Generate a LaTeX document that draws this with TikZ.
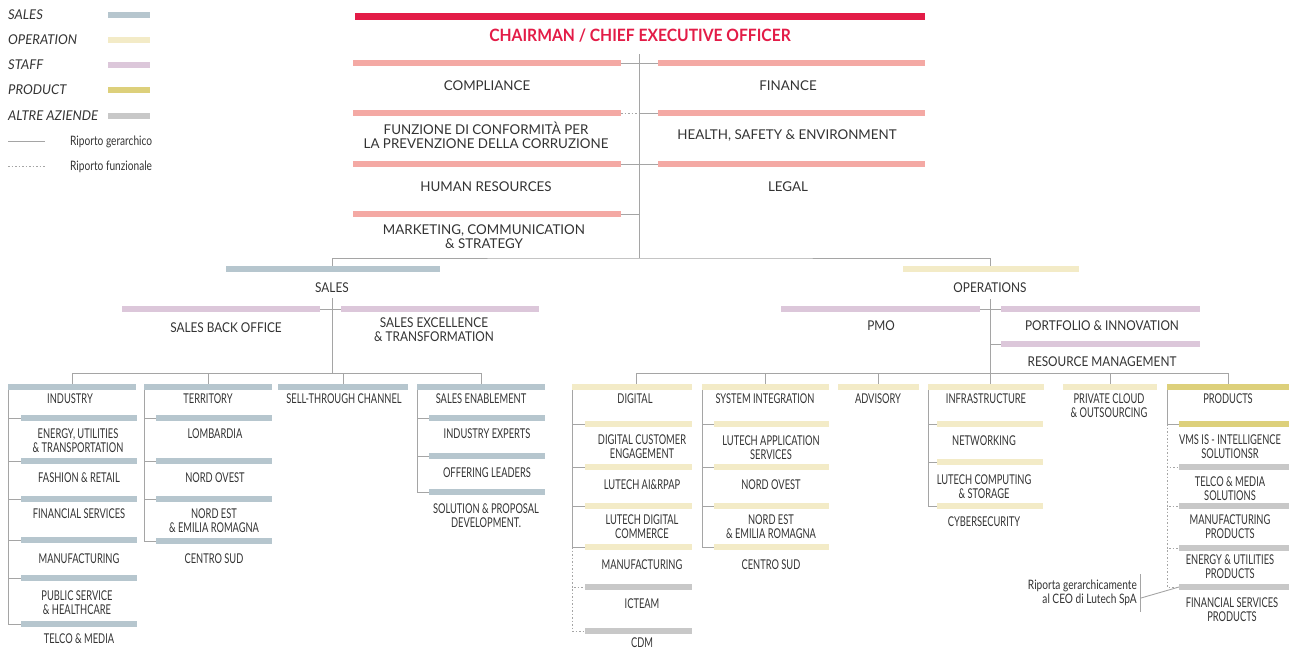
\documentclass[tikz,border=0pt]{standalone}
\usepackage{fontspec}
\setmainfont{Lato}
\newfontfamily\fa{Lato}[FakeStretch=0.99]
\newfontfamily\fb{Lato}[FakeStretch=0.875]
\newfontfamily\fl{Lato}[FakeStretch=0.97]
\newfontfamily\fr{Lato}[FakeStretch=0.92]
\newfontfamily\fc{Lato}[FakeStretch=0.69]
\newfontfamily\fn{Lato}[FakeStretch=0.78]
\usetikzlibrary{calc}
\pgfdeclarelayer{bg}
\pgfsetlayers{bg,main}
\definecolor{cred}{HTML}{E31C47}
\definecolor{csal}{HTML}{F4A9A4}
\definecolor{csales}{HTML}{B6C6CE}
\definecolor{cop}{HTML}{F3EBC7}
\definecolor{cstaff}{HTML}{DCC7DA}
\definecolor{cprod}{HTML}{DDD07B}
\definecolor{calt}{HTML}{C8C8C8}
\definecolor{ctxt}{HTML}{333333}
\definecolor{cline}{HTML}{A5A5A5}
\newcommand\mkbar[5]{\node[bar,fill=#2,minimum width={(#4)-(#3)}] (#1) at ({((#3)+(#4))/2},#5) {};}
\tikzset{
  bar/.style={rectangle,inner sep=0pt,outer sep=0pt,minimum height=6pt,draw=none},
  ta/.style={text=ctxt,inner sep=0pt,align=center,font=\fa\fontsize{13.5}{14}\selectfont},
  tb/.style={text=ctxt,inner sep=0pt,align=center,font=\fb\fontsize{13.5}{14}\selectfont},
  tc/.style={text=ctxt,inner sep=0pt,align=center,font=\fc\fontsize{13.5}{14}\selectfont},
  tl/.style={text=ctxt,inner sep=0pt,anchor=west,font=\fl\itshape\fontsize{13.5}{14}\selectfont},
  tn/.style={text=ctxt,inner sep=0pt,font=\fn\fontsize{13}{13.5}\selectfont},
  conn/.style={draw=cline,line width=0.9pt},
  fconn/.style={conn,dash pattern=on 1.6pt off 1.9pt},
}
\begin{document}
\begin{tikzpicture}[x=1pt,y=-1pt]
\useasboundingbox (0,0) rectangle (1291,649);
% ---------------- legend
\node[tl] (l1) at (8,15) {SALES};
\node[tl] (l2) at (8,40) {OPERATION};
\node[tl] (l3) at (8,65) {STAFF};
\node[tl] (l4) at (8,90) {PRODUCT};
\node[tl] (l5) at (8,116) {ALTRE AZIENDE};
\mkbar{lb1}{csales}{108}{150}{15}
\mkbar{lb2}{cop}{108}{150}{40}
\mkbar{lb3}{cstaff}{108}{150}{65}
\mkbar{lb4}{cprod}{108}{150}{90}
\mkbar{lb5}{calt}{108}{150}{116}
\coordinate (lg1a) at (8,141); \coordinate (lg1b) at (45,141);
\coordinate (lg2a) at (8,166); \coordinate (lg2b) at (45,166);
\node[tn,anchor=west] (lt1) at (70,141.5) {Riporto gerarchico};
\node[tn,anchor=west] (lt2) at (70,166.5) {Riporto funzionale};
% ---------------- top
\node[bar,fill=cred,minimum width=570,minimum height=7pt] (ceo) at (640,16) {};
\node[text=cred,inner sep=0pt,font=\fr\bfseries\fontsize{17}{17}\selectfont] (ceot) at (640,35.5) {CHAIRMAN / CHIEF EXECUTIVE OFFICER};
\mkbar{comp}{csal}{353}{621}{63}
\mkbar{fin}{csal}{658}{925}{63}
\mkbar{fcpc}{csal}{353}{621}{113}
\mkbar{hse}{csal}{658}{925}{113}
\mkbar{hr}{csal}{353}{621}{164}
\mkbar{legal}{csal}{658}{925}{164}
\mkbar{mkt}{csal}{353}{621}{214}
\node[ta] (compt) at (487,85.5) {COMPLIANCE};
\node[ta] (fint) at (788,85.5) {FINANCE};
\node[ta] (fcpct) at (486,135.5) {FUNZIONE DI CONFORMITÀ PER\\LA PREVENZIONE DELLA CORRUZIONE};
\node[ta] (hset) at (787,136) {HEALTH, SAFETY \& ENVIRONMENT};
\node[ta] (hrt) at (486,186.5) {HUMAN RESOURCES};
\node[ta] (legalt) at (788,186.5) {LEGAL};
\node[ta] (mktt) at (484,236.5) {MARKETING, COMMUNICATION\\\& STRATEGY};
\coordinate (ctop) at (639,54);
\coordinate (hub) at (639,258);
% ---------------- sales
\mkbar{sales}{csales}{226}{440}{269}
\node[tb] (salest) at (332,287.5) {SALES};
\mkbar{sbo}{cstaff}{122}{320}{309}
\mkbar{set}{cstaff}{341}{539}{309}
\node[tb] (sbot) at (226,327.5) {SALES BACK OFFICE};
\node[tb] (sett) at (434,329.5) {SALES EXCELLENCE\\\& TRANSFORMATION};
\coordinate (sv) at (332,298);
\coordinate (sj) at (332,373);
% sales level
\mkbar{ind}{csales}{8}{136}{387}
\mkbar{terr}{csales}{144}{272}{387}
\mkbar{sell}{csales}{278}{408}{387}
\mkbar{sen}{csales}{417}{545}{387}
\node[tc] (indt) at (70,398.5) {INDUSTRY};
\node[tc] (terrt) at (208,398.5) {TERRITORY};
\node[tc] (sellt) at (344,398.5) {SELL-THROUGH CHANNEL};
\node[tc] (sent) at (481,398.5) {SALES ENABLEMENT};
% industry
\mkbar{enr}{csales}{21}{137}{418}
\mkbar{fash}{csales}{21}{137}{461}
\mkbar{fins}{csales}{21}{137}{499}
\mkbar{imanu}{csales}{21}{137}{540}
\mkbar{pub}{csales}{21}{137}{578}
\mkbar{itel}{csales}{21}{137}{624}
\node[tc] (enrt) at (78,440.5) {ENERGY, UTILITIES\\\& TRANSPORTATION};
\node[tc] (fasht) at (79,477.5) {FASHION \& RETAIL};
\node[tc] (finst) at (79,513.5) {FINANCIAL SERVICES};
\node[tc] (imanut) at (79,558.5) {MANUFACTURING};
\node[tc] (pubt) at (77,602.5) {PUBLIC SERVICE\\\& HEALTHCARE};
\node[tc] (itelt) at (79,638.5) {TELCO \& MEDIA};
% territory
\mkbar{lomb}{csales}{156}{272}{418}
\mkbar{tno}{csales}{156}{272}{461}
\mkbar{tne}{csales}{156}{272}{499}
\mkbar{tcs}{csales}{156}{272}{541}
\node[tc] (lombt) at (215,433.5) {LOMBARDIA};
\node[tc] (tnot) at (215,477.5) {NORD OVEST};
\node[tc] (tnet) at (214,520.5) {NORD EST\\\& EMILIA ROMAGNA};
\node[tc] (tcst) at (214,558.5) {CENTRO SUD};
% sales enablement
\mkbar{iexp}{csales}{429}{545}{418}
\mkbar{offl}{csales}{429}{545}{456}
\mkbar{spd}{csales}{429}{545}{492}
\node[tc] (iexpt) at (487,433.5) {INDUSTRY EXPERTS};
\node[tc] (offlt) at (487,472.5) {OFFERING LEADERS};
\node[tc] (spdt) at (486,515.5) {SOLUTION \& PROPOSAL\\DEVELOPMENT.};
% ---------------- operations
\mkbar{ops}{cop}{903}{1079}{269}
\node[tb] (opst) at (990,287.5) {OPERATIONS};
\mkbar{pmo}{cstaff}{781}{980}{309}
\mkbar{pfi}{cstaff}{1001}{1200}{309}
\mkbar{rm}{cstaff}{1001}{1200}{344}
\node[tb] (pmot) at (881,325.5) {PMO};
\node[tb] (pfit) at (1102,325.5) {PORTFOLIO \& INNOVATION};
\node[tb] (rmt) at (1102,361.5) {RESOURCE MANAGEMENT};
\coordinate (ov) at (990,299);
\coordinate (oj) at (990,373);
% ops level
\mkbar{dig}{cop}{572}{692}{387}
\mkbar{sys}{cop}{702}{829}{387}
\mkbar{adv}{cop}{838}{919}{387}
\mkbar{inf}{cop}{928}{1044}{387}
\mkbar{pcl}{cop}{1063}{1157}{387}
\mkbar{prod}{cprod}{1167}{1289}{387}
\node[tc] (digt) at (635,398.5) {DIGITAL};
\node[tc] (syst) at (765,398.5) {SYSTEM INTEGRATION};
\node[tc] (advt) at (878,398.5) {ADVISORY};
\node[tc] (inft) at (986,398.5) {INFRASTRUCTURE};
\node[tc] (pclt) at (1109,406) {PRIVATE CLOUD\\\& OUTSOURCING};
\node[tc] (prodt) at (1228,398.5) {PRODUCTS};
% digital
\mkbar{dce}{cop}{585}{692}{424}
\mkbar{dai}{cop}{585}{692}{467}
\mkbar{ddc}{cop}{585}{692}{506}
\mkbar{dman}{cop}{585}{692}{547}
\mkbar{ict}{calt}{585}{692}{587}
\mkbar{cdm}{calt}{585}{692}{631}
\node[tc] (dcet) at (642,446.5) {DIGITAL CUSTOMER\\ENGAGEMENT};
\node[tc] (dait) at (642,484.5) {LUTECH AI\&RPAP};
\node[tc] (ddct) at (642,526.5) {LUTECH DIGITAL\\COMMERCE};
\node[tc] (dmant) at (642,564.5) {MANUFACTURING};
\node[tc] (ictt) at (642,603.5) {ICTEAM};
\node[tc] (cdmt) at (642,642.5) {CDM};
% system integration
\mkbar{las}{cop}{714}{829}{424}
\mkbar{sno}{cop}{714}{829}{467}
\mkbar{sne}{cop}{714}{829}{506}
\mkbar{scs}{cop}{714}{829}{547}
\node[tc] (last) at (771,447.5) {LUTECH APPLICATION\\SERVICES};
\node[tc] (snot) at (771,484.5) {NORD OVEST};
\node[tc] (snet) at (771,526.5) {NORD EST\\\& EMILIA ROMAGNA};
\node[tc] (scst) at (771,564.5) {CENTRO SUD};
% infrastructure
\mkbar{net}{cop}{937}{1043}{424}
\mkbar{lcs}{cop}{937}{1043}{462}
\mkbar{cyb}{cop}{937}{1043}{506}
\node[tc] (nett) at (984,440.5) {NETWORKING};
\node[tc] (lcst) at (984,486.5) {LUTECH COMPUTING\\\& STORAGE};
\node[tc] (cybt) at (984,521.5) {CYBERSECURITY};
% products
\mkbar{vms}{cprod}{1179}{1289}{424}
\mkbar{tms}{calt}{1179}{1289}{467}
\mkbar{mpr}{calt}{1179}{1289}{506}
\mkbar{eup}{calt}{1179}{1289}{548}
\mkbar{fsp}{calt}{1179}{1289}{587}
\node[tc] (vmst) at (1230,446.5) {VMS IS - INTELLIGENCE\\SOLUTIONSR};
\node[tc] (tmst) at (1230,488.5) {TELCO \& MEDIA\\SOLUTIONS};
\node[tc] (mprt) at (1230,526.5) {MANUFACTURING\\PRODUCTS};
\node[tc] (eupt) at (1230,566.5) {ENERGY \& UTILITIES\\PRODUCTS};
\node[tc] (fspt) at (1232,609.5) {FINANCIAL SERVICES\\PRODUCTS};
\node[tn,align=right,anchor=east] (anno) at (1137,593) {Riporta gerarchicamente\\al CEO di Lutech SpA};
\coordinate (bt) at (1140,574);
\coordinate (bb) at (1140,612);
\coordinate (bm) at (1141,598);
% ---------------- connectors
\begin{pgfonlayer}{bg}
\draw[conn] (lg1a) -- (lg1b);
\draw[fconn] (lg2a) -- (lg2b);
\draw[conn] (ctop) -- (hub);
\draw[conn] (comp.east) -- (fin.west);
\draw[fconn] (fcpc.east) -- (fcpc.east -| hub);
\draw[conn] (fcpc.east -| hub) -- (hse.west);
\draw[conn] (hr.east) -- (legal.west);
\draw[conn] (mkt.east) -- (mkt.east -| hub);
\draw[conn] (sales.north -| sv) |- (hub) -| (ov |- ops.north);
% sales
\draw[conn] (sbo.east) -- (set.west);
\draw[conn] (sv) -- (sj);
\draw[conn] (ind.north) -- (ind.north |- sj) -- (sen.north |- sj) -- (sen.north);
\draw[conn] (terr.north) -- (terr.north |- sj);
\draw[conn] (sell.north) -- (sell.north |- sj);
\foreach \s in {enr,fash,fins,imanu,pub,itel} \draw[conn] (ind.west) |- (\s.west);
\foreach \s in {lomb,tno,tne,tcs} \draw[conn] (terr.west) |- (\s.west);
\foreach \s in {iexp,offl,spd} \draw[conn] (sen.west) |- (\s.west);
% operations
\draw[conn] (pmo.east) -- (pfi.west);
\draw[conn] (ov) -- (ov |- inf.north);
\draw[conn] (ov |- rm.west) -- (rm.west);
\draw[conn] ([xshift=4pt]dig.north) -- ([xshift=4pt]dig.north |- oj) -- (prod.north |- oj) -- (prod.north);
\foreach \s in {sys,adv,pcl} \draw[conn] (\s.north) -- (\s.north |- oj);
\foreach \s in {dce,dai,ddc,dman} \draw[conn] (dig.west) |- (\s.west);
\foreach \s in {ict,cdm} \draw[fconn] (dig.west |- dman.west) |- (\s.west);
\foreach \s in {las,sno,sne,scs} \draw[conn] (sys.west) |- (\s.west);
\foreach \s in {net,lcs,cyb} \draw[conn] (inf.west) |- (\s.west);
\draw[conn] (prod.west) |- (vms.west);
\foreach \s in {tms,mpr,eup,fsp} \draw[fconn] (prod.west |- vms.west) |- (\s.west);
\draw[conn] (bt) -- (bb);
\draw[conn] (bm) -- (fsp.west);
\end{pgfonlayer}
\end{tikzpicture}
\end{document}
